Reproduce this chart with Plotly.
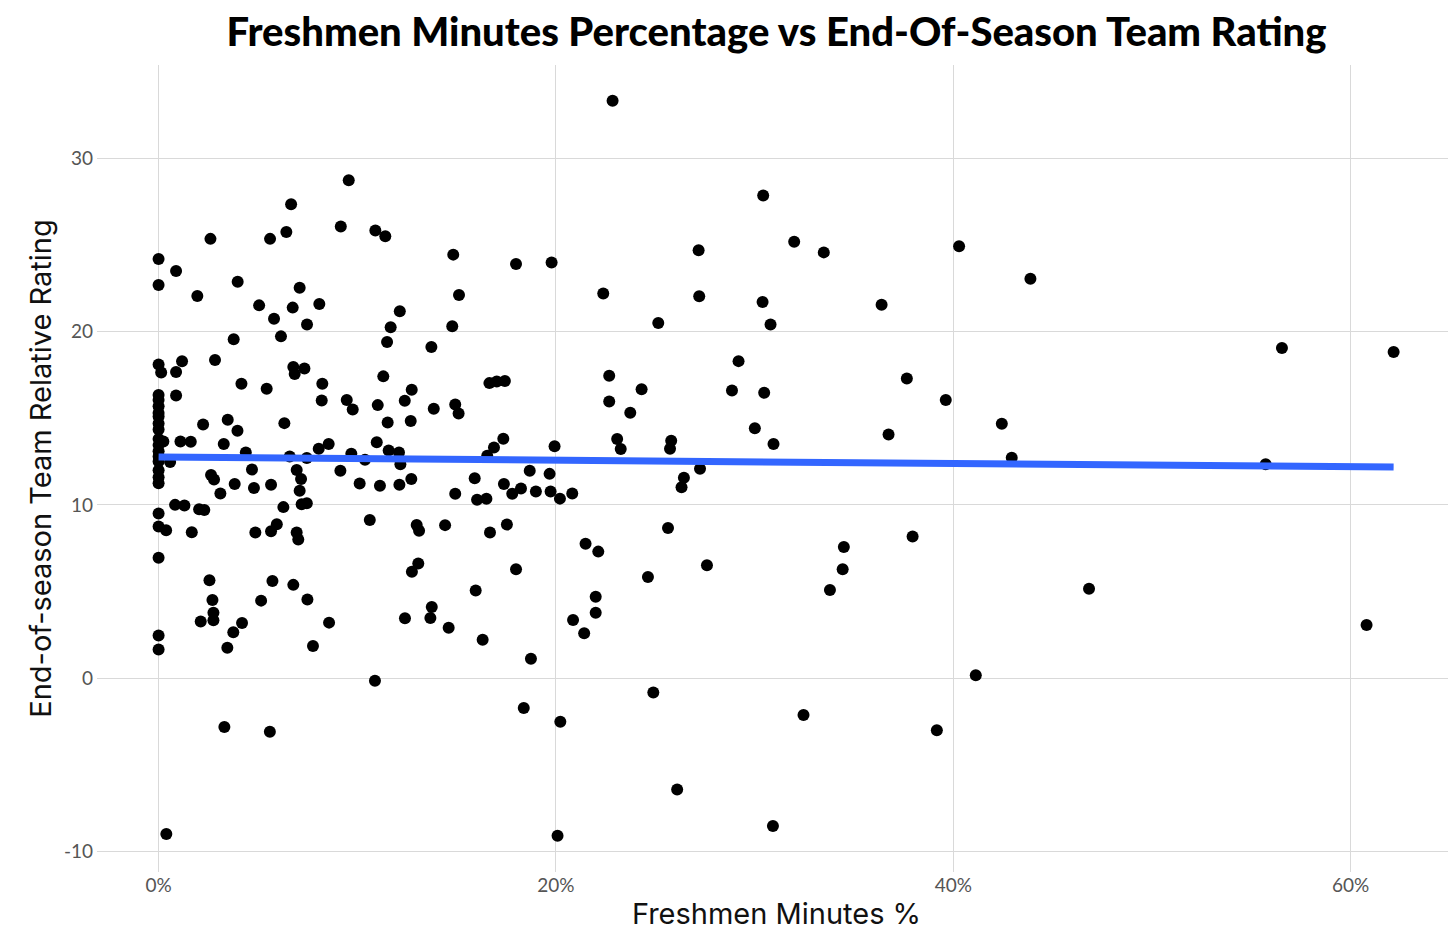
import plotly.graph_objects as go

# ---- data ----
freshmen_pct = [
    0.0957, 0.0667, 0.0261, 0.0561, 0.0643, 0.0917, 0.1091, 0.1141, 0.0, 0.0088,
    0.0, 0.0195, 0.0398, 0.0710, 0.0506, 0.0675, 0.0809, 0.0581, 0.0747, 0.0616,
    0.0378, 0.1483, 0.1799, 0.1978, 0.1512, 0.1214, 0.1168, 0.1478, 0.1150, 0.1373,
    0.0, 0.0013, 0.0118, 0.0088, 0.0284, 0.0678, 0.0734, 0.0685, 0.1131,
    0.0417, 0.0544, 0.0824, 0.0821, 0.1274, 0.1665, 0.1702, 0.1743, 0.0088, 0.0224,
    0.0348, 0.0397, 0.0328, 0.0439, 0.0633, 0.0470, 0.0264, 0.0279, 0.0383, 0.0480,
    0.0566, 0.0311, 0.0660, 0.0746, 0.0695, 0.0717, 0.0710, 0.0720, 0.0746, 0.0806,
    0.0856, 0.0970, 0.1039, 0.0915, 0.0947, 0.0977, 0.1103, 0.1153, 0.1239, 0.1269,
    0.1098, 0.1158, 0.1210, 0.1217, 0.1012, 0.1114, 0.1212, 0.1272, 0.1385, 0.1493,
    0.1510, 0.1735, 0.1688, 0.1654, 0.1868, 0.1968, 0.1993, 0.1591, 0.1493, 0.1603,
    0.1650, 0.1738, 0.1780, 0.1824, 0.1899, 0.1973, 0.2020, 0.2082, 0.2149, 0.2213,
    0.2200, 0.2200, 0.2086, 0.2142, 0.1874, 0.1799, 0.1753, 0.1668, 0.1596, 0.1631,
    0.1442, 0.1299, 0.1311, 0.1307, 0.1275, 0.1375, 0.1368, 0.1460, 0.1240, 0.1063,
    0.1089, 0.0777, 0.0858, 0.0749, 0.0678, 0.0573, 0.0516, 0.0420, 0.0376, 0.0346,
    0.0256, 0.0271, 0.0276, 0.0276, 0.0212, 0.0038, 0.0167, 0.0083, 0.0130, 0.0204,
    0.0230, 0.0487, 0.0566, 0.0595, 0.0695, 0.0703, 0.0628, 0.0110, 0.0162, 0.0058,
    0.0024,
    0.0, 0.0, 0.0, 0.0, 0.0, 0.0, 0.0, 0.0, 0.0, 0.0,
    0.0, 0.0, 0.0, 0.0, 0.0, 0.0, 0.0, 0.0, 0.0, 0.0,
    0.0331, 0.0560, 0.0039, 0.1838, 0.2022, 0.2008,
    0.2285, 0.3043, 0.2718, 0.3199, 0.3348, 0.4029, 0.4388, 0.2238, 0.2721, 0.3040,
    0.2515, 0.3080, 0.3639, 0.2919, 0.2268, 0.3766,
    0.2431, 0.2268, 0.2374, 0.2886, 0.3048, 0.3001, 0.3095, 0.2308, 0.2326, 0.2580,
    0.2574, 0.2725, 0.2644, 0.2632, 0.3674, 0.3962, 0.4244, 0.4294, 0.2564, 0.2463,
    0.2760, 0.3449, 0.3443, 0.3379, 0.3795, 0.4113,
    0.2490, 0.3246, 0.3917, 0.2610, 0.3092,
    0.5654, 0.6216, 0.4683, 0.5572, 0.6080,
]

team_rating = [
    28.75, 27.36, 25.36, 25.36, 25.76, 26.07, 25.84, 25.51, 24.20, 23.51,
    22.70, 22.06, 22.89, 22.54, 21.52, 21.39, 21.60, 20.75, 20.42, 19.73,
    19.56, 24.45, 23.91, 23.99, 22.12, 21.18, 20.25, 20.31, 19.40, 19.12,
    18.10, 17.65, 18.29, 17.67, 18.36, 17.96, 17.88, 17.55, 17.42,
    16.99, 16.71, 16.99, 16.03, 16.65, 17.03, 17.13, 17.15, 16.32, 14.64,
    14.91, 14.28, 13.51, 13.02, 14.72, 12.04, 11.73, 11.46, 11.20, 10.98,
    11.16, 10.65, 12.79, 12.70, 12.02, 11.50, 10.81, 10.04, 10.10, 13.24,
    13.51, 12.95, 12.60, 11.97, 16.05, 15.51, 15.76, 14.76, 16.01, 14.84,
    13.62, 13.14, 13.02, 12.35, 11.23, 11.10, 11.16, 11.50, 15.55, 15.80,
    15.28, 13.82, 13.31, 12.83, 11.97, 11.79, 13.39, 11.54, 10.64, 10.29,
    10.35, 11.20, 10.64, 10.94, 10.77, 10.77, 10.36, 10.65, 7.76, 7.30,
    4.70, 3.77, 3.35, 2.58, 1.12, 6.28, 8.86, 8.40, 5.05, 2.21,
    8.83, 8.84, 8.50, 6.61, 6.14, 4.10, 3.47, 2.91, 3.45, 9.12,
    -0.16, 1.85, 3.20, 4.53, 5.38, 5.61, 4.47, 3.18, 2.64, 1.75,
    5.65, 4.51, 3.77, 3.34, 3.26, 8.54, 8.42, 10.00, 9.96, 9.75,
    9.71, 8.40, 8.48, 8.88, 8.40, 8.00, 9.87, 13.66, 13.64, 12.47,
    13.66,
    16.35, 16.05, 15.70, 15.30, 15.10, 14.70, 14.35, 13.80, 13.45, 13.10,
    12.80, 12.50, 12.00, 11.60, 11.25, 9.50, 8.75, 6.95, 2.45, 1.65,
    -2.83, -3.10, -9.00, -1.73, -2.52, -9.11,
    33.33, 27.86, 24.70, 25.20, 24.58, 24.93, 23.06, 22.20, 22.04, 21.72,
    20.50, 20.42, 21.56, 18.30, 17.46, 17.30,
    16.67, 15.97, 15.32, 16.61, 16.47, 14.43, 13.51, 13.80, 13.22, 13.70,
    13.24, 12.08, 11.56, 11.02, 14.06, 16.05, 14.68, 12.72, 8.67, 5.84,
    6.51, 7.57, 6.28, 5.09, 8.17, 0.16,
    -0.83, -2.14, -3.01, -6.43, -8.55,
    19.06, 18.83, 5.16, 12.35, 3.06,
]

# fitted trend line endpoints
fit_x = [0.0, 0.6216]
fit_y = [12.77, 12.18]

x_tick_vals = [0.0, 0.2, 0.4, 0.6]
x_tick_text = ["0%", "20%", "40%", "60%"]
y_tick_vals = [-10, 0, 10, 20, 30]
y_tick_text = ["-10", "0", "10", "20", "30"]

title_text = "Freshmen Minutes Percentage vs End-Of-Season Team Rating"
x_title = "Freshmen Minutes %"
y_title = "End-of-season Team Relative Rating"

# ---- figure ----
fig = go.Figure()
fig.add_trace(go.Scatter(
    x=freshmen_pct, y=team_rating, mode="markers",
    marker=dict(color="black", size=12, line=dict(width=0)),
    showlegend=False, hoverinfo="skip",
))
fig.add_trace(go.Scatter(
    x=fit_x, y=fit_y, mode="lines",
    line=dict(color="#3366FF", width=7),
    showlegend=False, hoverinfo="skip",
))

grid_color = "#d9d9d9"
tick_font = dict(family="Lato", size=19, color="#555555")
axis_title_font = dict(family="Inter", size=29, color="#111111")

# the page body adds an 8px margin, so the figure is 8px smaller on each side
fig.update_layout(
    width=1448, height=938,
    paper_bgcolor="white", plot_bgcolor="white",
    margin=dict(l=89, r=0, t=57, b=74, autoexpand=False),
    title=dict(
        text=title_text, x=0.5, xref="paper", xanchor="center",
        y=0.974, yref="container", yanchor="middle",
        font=dict(family="Lato", size=40, color="black", weight=900),
    ),
    xaxis=dict(
        range=[-0.031, 0.653], tickvals=x_tick_vals, ticktext=x_tick_text,
        showgrid=True, gridcolor=grid_color, gridwidth=1.3, zeroline=False,
        showline=False, ticks="", tickfont=tick_font, ticklabelstandoff=0,
        automargin=False,
        title=dict(text=x_title, font=axis_title_font, standoff=8),
    ),
    yaxis=dict(
        range=[-11.2, 35.4], tickvals=y_tick_vals, ticktext=y_tick_text,
        showgrid=True, gridcolor=grid_color, gridwidth=1.3, zeroline=False,
        showline=False, ticks="", tickfont=tick_font, ticklabelstandoff=3,
        automargin=False,
        title=dict(text=y_title, font=axis_title_font, standoff=3),
    ),
)

fig.write_html("out.html")
